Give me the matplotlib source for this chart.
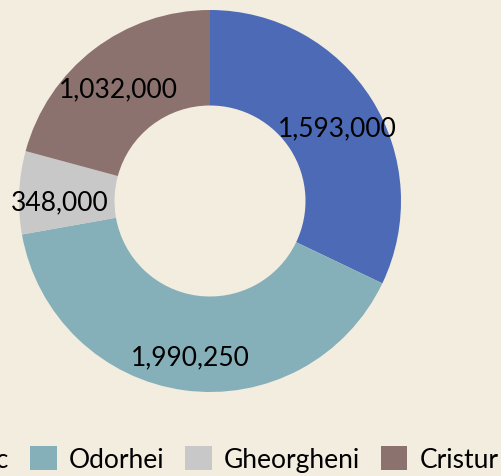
import matplotlib
matplotlib.use("Agg")
import matplotlib.pyplot as plt
from matplotlib.patches import Patch
from matplotlib.transforms import offset_copy

regions = ["Ciuc", "Odorhei", "Gheorgheni", "Cristur"]
values = [1593000, 1990250, 348000, 1032000]
colors = ["#4c6ab5", "#86b0b9", "#c8c8c8", "#8c726f"]
bg = "#f3ede0"

plt.rcParams['font.family'] = ['Lato', 'DejaVu Sans']

W, H = 501, 477
fig = plt.figure(figsize=(W / 100, H / 100), dpi=100, facecolor=bg)
cx, cy, r = 210, 202, 191
ax = fig.add_axes([(cx - r) / W, (H - cy - r) / H, 2 * r / W, 2 * r / H])
ax.set_facecolor(bg)

wedges, texts = ax.pie(values, colors=colors, startangle=90, counterclock=False,
                       radius=1.0, wedgeprops=dict(width=0.5, linewidth=0),
                       labels=[f"{v:,}" for v in values], labeldistance=0.785,
                       textprops=dict(fontsize=19, color="black", ha="center", va="center"))
for t in texts:
    t.set_ha("center")
    t.set_va("center")
    t.set_transform(offset_copy(t.get_transform(), fig=fig, x=0, y=-7, units='dots'))
ax.set_xlim(-1, 1)
ax.set_ylim(-1, 1)
ax.set_aspect("equal")
ax.axis("off")

handles = [Patch(facecolor=c, edgecolor="none") for c in colors]
fig.legend(handles, regions, loc="center", bbox_to_anchor=((cx - 1) / W, 1 - 460 / H),
           ncol=4, frameon=False, fontsize=19, handlelength=1.0, handleheight=1.0,
           handletextpad=0.45, columnspacing=0.8)

fig.savefig("out.png", dpi=100, facecolor=bg)
